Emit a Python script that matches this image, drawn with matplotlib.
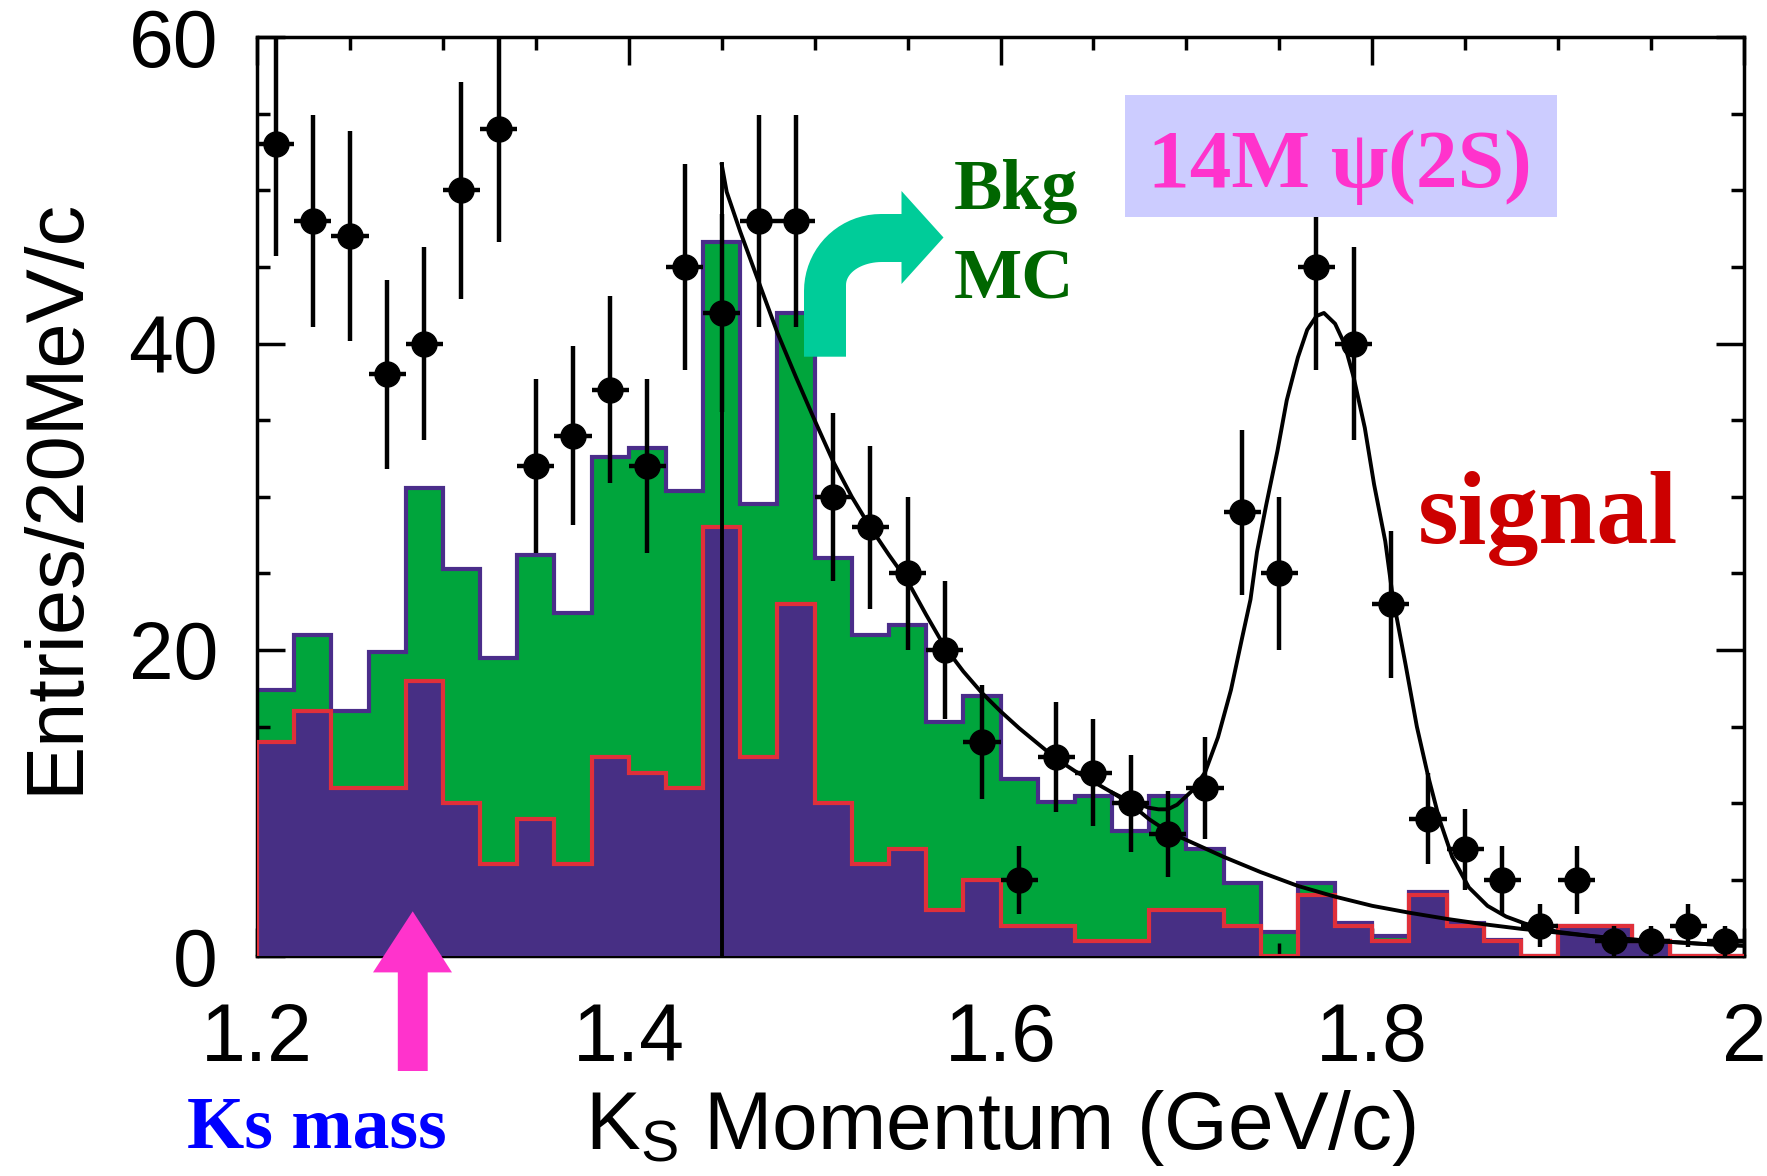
import numpy as np
import matplotlib
matplotlib.use("Agg")
import matplotlib.pyplot as plt
from matplotlib.patches import Polygon, Rectangle
from matplotlib.ticker import MultipleLocator

plt.rcParams['font.family'] = ['Liberation Sans', 'DejaVu Sans']
plt.rcParams['mathtext.fontset'] = 'custom'
plt.rcParams['mathtext.rm'] = 'Liberation Sans'
plt.rcParams['mathtext.it'] = 'Liberation Sans:italic'

# ---------------- data ----------------
bin_edges = np.round(np.linspace(1.20, 2.00, 41), 3)
data_x = np.round(bin_edges[:-1] + 0.01, 3)
data_y = [53, 48, 47, 38, 40, 50, 54, 32, 34, 37,
          32, 45, 42, 48, 48, 30, 28, 25, 20, 14,
          5, 13, 12, 10, 8, 11, 29, 25, 45, 40,
          23, 9, 7, 5, 2, 5, 1, 1, 2, 1]

mc_total = [17.4, 21.0, 16.0, 19.9, 30.6, 25.3, 19.5, 26.2, 22.4, 32.6,
            33.2, 30.4, 46.6, 29.5, 42.0, 26.0, 21.0, 21.6, 15.3, 17.0,
            11.6, 10.1, 10.5, 8.2, 10.5, 7.0, 4.8, 1.6, 4.8, 2.2,
            1.3, 4.2, 2.2, 1.1, 0.0, 2.0, 2.0, 1.0, 0.0, 0.0]
mc_part = [14, 16, 11, 11, 18, 10, 6, 9, 6, 13,
           12, 11, 28, 13, 23, 10, 6, 7, 3, 5,
           2, 2, 1, 1, 3, 3, 2, 0, 4, 2,
           1, 4, 2, 1, 0, 2, 2, 1, 0, 0]

fit_x = [1.450, 1.4527, 1.46, 1.47, 1.48, 1.49, 1.50, 1.51, 1.52, 1.53,
         1.54, 1.55, 1.56, 1.57, 1.58, 1.59, 1.60, 1.61, 1.62, 1.63,
         1.64, 1.65, 1.66, 1.67, 1.68, 1.685, 1.69, 1.695, 1.703, 1.710,
         1.717, 1.724, 1.730, 1.7345, 1.738, 1.743, 1.749, 1.754, 1.760, 1.765,
         1.770, 1.774, 1.780, 1.785, 1.790, 1.796, 1.801, 1.807, 1.811, 1.818,
         1.824, 1.830, 1.836, 1.843, 1.852, 1.862, 1.872, 1.882, 1.890, 1.90,
         1.92, 1.94, 1.96, 1.98, 2.00]
fit_y = [51.7, 49.9, 47.3, 44.0, 40.7, 37.8, 35.0, 32.3, 30.0, 28.0,
         26.2, 24.5, 22.3, 20.2, 18.6, 17.2, 16.0, 14.9, 13.9, 12.9,
         12.1, 11.4, 10.7, 10.1, 9.7, 9.6, 9.6, 9.9, 10.8, 12.0,
         14.3, 17.4, 20.8, 23.3, 26.4, 29.5, 33.0, 36.3, 39.1, 40.9,
         41.8, 42.0, 41.3, 40.0, 37.8, 34.5, 30.8, 27.1, 23.5, 19.0,
         15.0, 11.8, 9.0, 6.5, 4.5, 3.3, 2.6, 2.15, 1.9, 1.6,
         1.3, 1.1, 0.95, 0.8, 0.7]
bkg_x = [1.66, 1.67, 1.68, 1.69, 1.70, 1.72, 1.74, 1.76, 1.78, 1.80,
         1.82, 1.84, 1.86, 1.88, 1.90, 1.92, 1.94, 1.96, 1.98, 2.00]
bkg_y = [10.7, 9.95, 8.95, 8.15, 7.6, 6.5, 5.5, 4.6, 3.9, 3.3,
         2.85, 2.45, 2.1, 1.8, 1.55, 1.3, 1.1, 0.95, 0.8, 0.7]
cut_x = 1.45
cut_top = 51.7

x_ticks = [1.2, 1.4, 1.6, 1.8, 2.0]
x_ticklabels = ['1.2', '1.4', '1.6', '1.8', '2']
y_ticks = [0, 20, 40, 60]
y_ticklabels = ['0', '20', '40', '60']

# ---------------- figure ----------------
W, H = 1767, 1176
fig = plt.figure(figsize=(W / 100, H / 100), dpi=100)


def fx(x):
    return x / W


def fy(y):
    return 1 - y / H


ax_l, ax_r, ax_t, ax_b = 257, 1744, 37.2, 956.4
ax = fig.add_axes([fx(ax_l), fy(ax_b), (ax_r - ax_l) / W, (ax_b - ax_t) / H])

GREEN = '#00A53C'
PURPLE_EDGE = '#4A2D8A'
PURPLE = '#472F84'
RED = '#E0303A'

ax.stairs(mc_total, bin_edges, fill=True, color=GREEN, zorder=1)
ax.stairs(mc_total, bin_edges, color=PURPLE_EDGE, lw=3.0, zorder=2)
ax.stairs(mc_part, bin_edges, fill=True, color=PURPLE, zorder=3)
ax.stairs(mc_part, bin_edges, color=RED, lw=3.0, zorder=4)

ax.plot([cut_x, cut_x], [0, cut_top], color='black', lw=2.8, zorder=5)
ax.plot(fit_x, fit_y, color='black', lw=2.8, zorder=5)
ax.plot(bkg_x, bkg_y, color='black', lw=2.8, zorder=5)

ax.errorbar(data_x, data_y, yerr=np.sqrt(data_y), xerr=0.01, fmt='o',
            color='black', ms=18, elinewidth=3.2, capsize=0, zorder=6)

ax.set_xlim(1.2, 2.0)
ax.set_ylim(0, 60)
ax.set_xticks(x_ticks)
ax.set_xticklabels(x_ticklabels)
ax.set_yticks(y_ticks)
ax.set_yticklabels(y_ticklabels)
ax.xaxis.set_minor_locator(MultipleLocator(0.05))
ax.yaxis.set_minor_locator(MultipleLocator(5))
ax.tick_params(which='both', direction='in', top=True, right=True, width=2.5)
ax.tick_params(which='major', length=20, labelsize=58)
ax.tick_params(which='minor', length=9.5)
ax.tick_params(axis='x', which='major', pad=33)
ax.tick_params(axis='y', which='major', pad=28)
for s in ax.spines.values():
    s.set_linewidth(2.5)

# axis labels
fig.text(fx(18), fy(496), 'Entries/20MeV/c', rotation=90, ha='left',
         va='center', fontsize=58.5)
fig.text(fx(1000), fy(1149.5), r'K$_{\mathrm{S}}$ Momentum (GeV/c)',
         ha='center', va='baseline', fontsize=59)

# annotations
SERIF = ['Liberation Serif', 'DejaVu Serif']
fig.patches.append(Rectangle((fx(1125), fy(216.6)), (1557.3 - 1125) / W,
                             (216.6 - 95) / H, transform=fig.transFigure,
                             facecolor='#CCCCFF', edgecolor='none', zorder=10))
fig.text(fx(1148), fy(187.5), '14M ψ(2S)', family=SERIF, weight='bold',
         fontsize=60, color='#FF33CC', ha='left', va='baseline', zorder=11)
fig.text(fx(954), fy(208.6), 'Bkg', family=SERIF, weight='bold',
         fontsize=52, color='#006600', ha='left', va='baseline', zorder=11)
fig.text(fx(954), fy(298.5), 'MC', family=SERIF, weight='bold',
         fontsize=52, color='#006600', ha='left', va='baseline', zorder=11)
fig.text(fx(1418), fy(543.4), 'signal', family=SERIF, weight='bold',
         fontsize=75, color='#CC0000', ha='left', va='baseline', zorder=11)
fig.text(fx(187), fy(1147.6), 'Ks mass', family=SERIF, weight='bold',
         fontsize=53, color='#0000FF', ha='left', va='baseline', zorder=11)

# teal curved arrow (pixel coordinates, y downward)
t = np.linspace(np.pi, 1.5 * np.pi, 20)
outer = [(804, 356.7), (804, 291)]
outer += [(881 + 77 * np.cos(a), 291 + 77 * np.sin(a)) for a in t]
outer += [(901.5, 214), (901.5, 191), (943.5, 237.5), (901.5, 284),
          (901.5, 262), (882, 262)]
inner = [(882 + 36 * np.cos(a), 285 + 23 * np.sin(a)) for a in t[::-1]]
pts = outer + inner + [(846, 285), (846, 356.7)]
fig.patches.append(Polygon([(fx(px), fy(py)) for px, py in pts], closed=True,
                           transform=fig.transFigure, facecolor='#00CC99',
                           edgecolor='none', zorder=12))

# magenta up arrow
mag = [(397.8, 1071), (397.8, 972.4), (373, 972.4), (412.7, 911.3),
       (452, 972.4), (427.7, 972.4), (427.7, 1071)]
fig.patches.append(Polygon([(fx(px), fy(py)) for px, py in mag], closed=True,
                           transform=fig.transFigure, facecolor='#FF33CC',
                           edgecolor='none', zorder=12))

fig.savefig('out.png', dpi=100)
